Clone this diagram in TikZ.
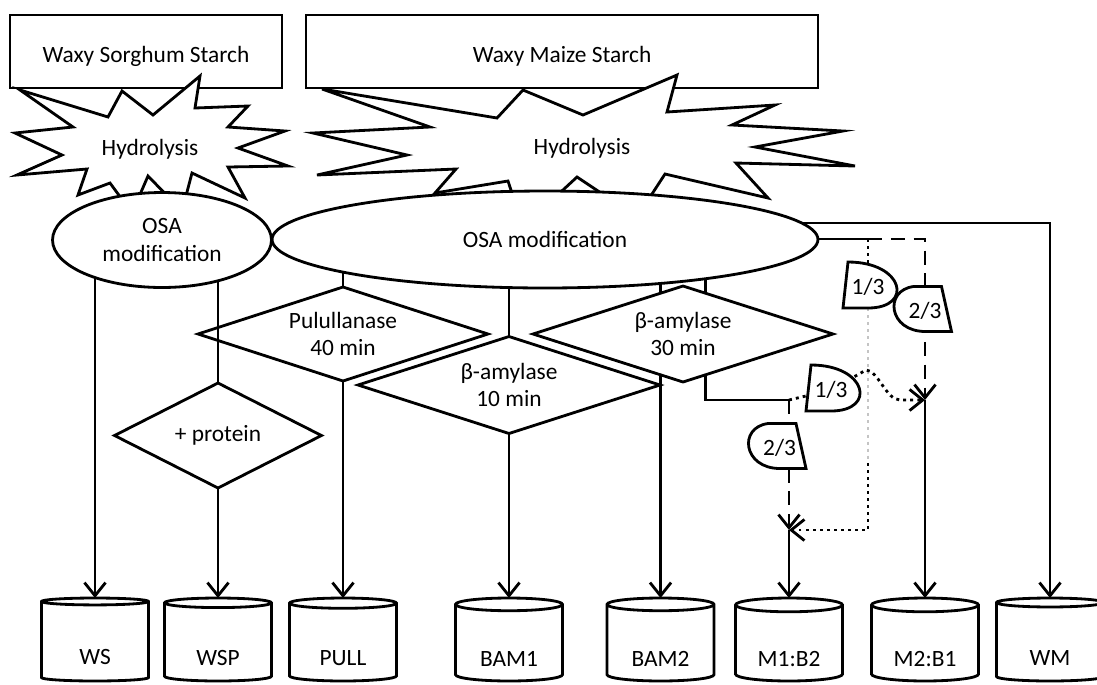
\documentclass[tikz,border=0pt]{standalone}
\usepackage{fontspec}
\setmainfont{Carlito}
\usetikzlibrary{arrows.meta, shapes.geometric, calc, backgrounds}
\definecolor{cink}{HTML}{000000}
\definecolor{cfaint}{HTML}{C4C4C4}
\tikzset{
  every picture/.style={line width=1.6pt, font=\fontsize{13.3}{15.4}\selectfont},
  box/.style={draw=cink, fill=white, inner sep=0pt, outer sep=0pt, minimum height=1.46cm,
    text height=13pt, text depth=0pt},
  osa/.style={draw=cink, fill=white, ellipse, inner sep=0pt, outer sep=0pt, align=center},
  enzyme/.style={draw=cink, diamond, aspect=3, inner sep=0pt, outer sep=0pt, align=center},
  store/.style={draw=cink, fill=white, cylinder, shape border rotate=90, aspect=0.22,
    minimum width=2.14cm, minimum height=1.66cm, inner sep=0pt, outer sep=0pt, anchor=north,
    text height=26pt, text depth=0pt},
  link/.style={draw=cink, line width=1.6pt},
  arrow/.style={link, -{Straight Barb[length=7.5pt, width=12pt]}},
  dashedline/.style={link, dash pattern=on 8pt off 5pt},
  dottedline/.style={link, dash pattern=on 1.7pt off 2.3pt},
  onethird/.pic={
    \draw[fill=white] (-21,-23) -- (-26,23) -- (-1,23) .. controls (45,23) and (35,-23) .. (-21,-23) -- cycle;
    \node[inner sep=0pt] (-txt) at (-1,2) {1/3};
  },
  twothirds/.pic={
    \draw[fill=white] (-10,-22) -- (18,-22) -- (28,23) -- (2,23) .. controls (-35,23) and (-40,-18) .. (-10,-22) -- cycle;
    \node[inner sep=0pt] (-txt) at (1.5,2) {2/3};
  },
}

\begin{document}
\begin{tikzpicture}[x=0.02cm, y=-0.02cm]
  \useasboundingbox (0,0) rectangle (1097,684);
  % starches
  \node[box, minimum width=5.44cm] (sorghum) at (146,51.5) {Waxy Sorghum Starch};
  \node[box, minimum width=10.24cm] (maize) at (562,51.5) {Waxy Maize Starch};
  \draw[fill=white] (20,90) -- (108,117) -- (122,91) -- (153,115) -- (200,76) -- (195,108) -- (248,106)
    -- (228,127) -- (285,131) -- (238,148) -- (288,166) -- (228,167) -- (245,198) -- (192,173) -- (182,211)
    -- (148,176) -- (132,213) -- (110,183) -- (78,195) -- (87,169) -- (17,175) -- (62,155) -- (15,133)
    -- (73,127) -- cycle;
  \node (hyd1) at (150,149) {Hydrolysis};
  \draw[fill=white] (322,89) -- (497,118) -- (523,90) -- (583,115) -- (677,75) -- (667,112) -- (775,105)
    -- (732,125) -- (843,131) -- (755,147) -- (855,166) -- (736,163) -- (768,198) -- (665,174) -- (637,217)
    -- (577,177) -- (523,227) -- (508,181) -- (435,193) -- (456,169) -- (317,175) -- (407,155) -- (313,133)
    -- (430,127) -- cycle;
  \node (hyd2) at (582,148) {Hydrolysis};
  \node[osa, minimum width=4.38cm, minimum height=1.9cm] (osa1) at (162,240) {OSA\\modification};
  \node[osa, minimum width=10.92cm, minimum height=1.94cm] (osa2) at (545,239.5) {OSA modification};
  % treatments
  \node[enzyme, minimum width=5.8cm, minimum height=1.88cm] (pull) at (343,334) {Pulullanase\\40 min};
  \node[enzyme, aspect=2, minimum width=4.14cm, minimum height=2.1cm] (protein) at (218,435.5) {+ protein};
  \node[enzyme, minimum width=6.04cm, minimum height=1.94cm] (b10) at (509,385) {β-amylase\\10 min};
  \node[enzyme, minimum width=6cm, minimum height=1.92cm] (b30) at (683,334) {β-amylase\\30 min};
  \coordinate (b30a) at ($(b30.north)!0.15!(b30.west)$);
  \coordinate (b30b) at ($(b30.south)!0.15!(b30.west)$);
  \coordinate (b30c) at ($(b30.north)!0.15!(b30.east)$);
  \coordinate (b30d) at ($(b30.south)!0.15!(b30.east)$);
  % samples
  \foreach \n/\x/\t in {ws/95/WS, wsp/218/WSP, pullc/343/PULL, bam1/509/BAM1, bam2/660.5/BAM2,
      m1b2/789/M1:B2, m2b1/925/M2:B1, wm/1050/WM}
    \node[store] (\n) at (\x,598) {\t};
  \coordinate (split) at (868,239);
  \coordinate (j0) at (789,400);
  \coordinate (j1) at (789,530);
  \coordinate (j2) at (925,400);
  \pic (q1) at (869,285) {onethird};
  \pic (q2) at (923.5,308.5) {twothirds};
  \pic (q3) at (832,388) {onethird};
  \pic (q4) at (778,445.5) {twothirds};
  \begin{scope}[on background layer]
    \draw[arrow] (ws.north |- osa1.center) -- (ws.north);
    \draw[link] (protein.north |- osa1.center) -- (protein.north);
    \draw[arrow] (protein.south) -- (wsp.north);
    \draw[link] (pull.north |- osa2.center) -- (pull.north);
    \draw[arrow] (pull.south) -- (pullc.north);
    \draw[link] (b10.north |- osa2.center) -- (b10.north);
    \draw[arrow] (b10.south) -- (bam1.north);
    \draw[link] (b30a |- osa2.center) -- (b30a);
    \draw[link] (b30c |- osa2.center) -- (b30c);
    \draw[arrow] (b30b) -- (b30b |- bam2.north);
    \draw[link] (b30d) |- (j0);
    \draw[arrow] (osa2.center |- 0,223) -| (wm.north);
    \draw[link] (osa2.center |- split) -- (split);
    \draw[dashedline, arrow] (split) -| (j2);
    \draw[dottedline] (split) -- (868,308);
    \draw[dottedline, draw=cfaint] (868,308) -- (868,463);
    \draw[dottedline, arrow] (868,463) |- (j1);
    \draw[dashedline, arrow] (j0) -- (j1);
    \draw[dottedline, arrow] (j0) -- (q3-txt.center) -- (866,370) .. controls (878,370) and (886,400) .. (900,400) -- (j2);
    \draw[arrow] (j1) -- (m1b2.north);
    \draw[arrow] (j2) -- (m2b1.north);
  \end{scope}
\end{tikzpicture}
\end{document}
